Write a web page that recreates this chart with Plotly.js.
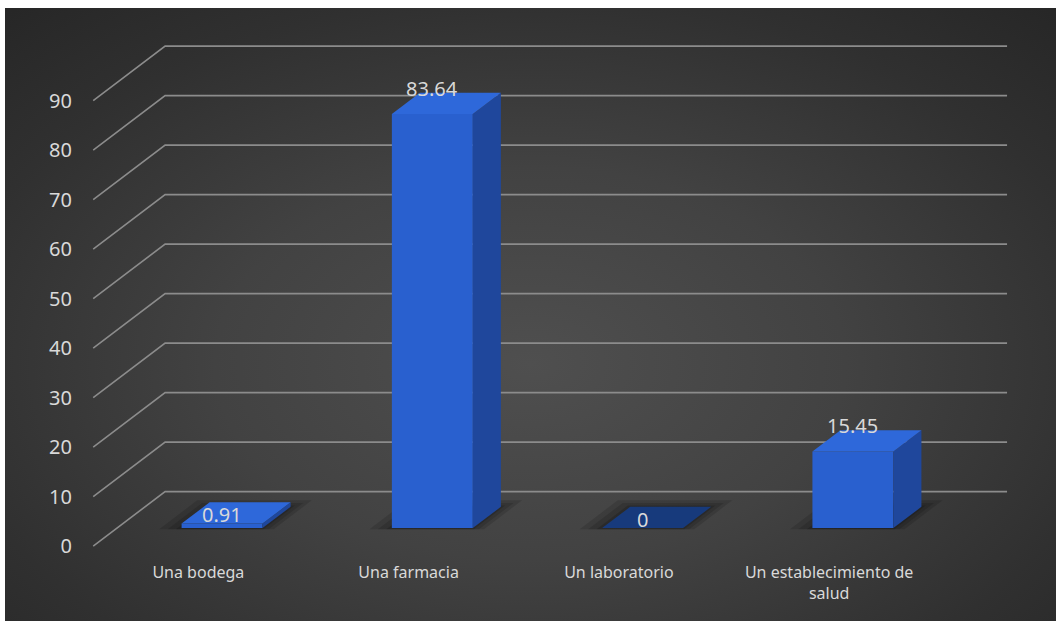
<!DOCTYPE html>
<html><head><meta charset="utf-8">
<script src="https://cdn.plot.ly/plotly-3.0.1.min.js"></script>
<style>
html,body{margin:0;padding:0;background:#fff;overflow:hidden;}
#bg{position:absolute;left:5px;top:8px;width:1051px;height:613px;
background:radial-gradient(ellipse 75% 80% at 50% 58%, #4f4f4f 0%, #424242 40%, #303030 75%, #262626 100%);}
#chart{position:absolute;left:0;top:0;width:1056px;height:621px;}
</style></head><body>
<div id="bg"></div><div id="chart"></div>
<script>
// ---- data ----
const categories = ["Una bodega", "Una farmacia", "Un laboratorio", "Un establecimiento de salud"];
const tickText = ["Una bodega", "Una farmacia", "Un laboratorio", "Un establecimiento de<br>salud"];
const values = [0.91, 83.64, 0, 15.45];
const valueLabels = ["0.91", "83.64", "0", "15.45"];
const yTicks = [0, 10, 20, 30, 40, 50, 60, 70, 80, 90];

// ---- 3D projection geometry (axis units) ----
const DX = 0.342, DY = 11.0;   // full floor depth offset
const D0 = 0.33, D1 = 0.72;    // bar front / back depth fraction
const BW = 0.385;              // bar width
const XR = [-0.52, 3.86];
const YR = [-1, 104.25];
const XEND = 3.846;

const txt = '#d9d9d9';
const font = 'Noto Sans, Open Sans, sans-serif';

const shapes = [];
// perspective gridlines (front diagonal + back wall line)
yTicks.forEach(v => {
  shapes.push({type:'path', layer:'below', xref:'x', yref:'y',
    path:`M ${-0.5},${v} L ${-0.5+DX},${v+DY} L ${XEND},${v+DY}`,
    line:{color:'#8c8c8c', width:1.6}});
});
// soft floor shadows
values.forEach((v, i) => {
  const xl = i - BW/2, xr = i + BW/2;
  [[0.10,0.13],[0.06,0.13],[0.02,0.16]].forEach(([g,a]) => {
    const da = D0 - 0.02, db = D1 + g*1.2;
    const p = [
      [xl - g + da*DX, da*DY], [xr + g*0.6 + da*DX, da*DY],
      [xr + g*0.6 + db*DX, db*DY], [xl - g + db*DX, db*DY]];
    shapes.push({type:'path', layer:'below', xref:'x', yref:'y',
      path:'M ' + p.map(q => q[0] + ',' + q[1]).join(' L ') + ' Z',
      fillcolor:`rgba(0,0,0,${a})`, line:{width:0}});
  });
});

const traces = [];
// front faces
traces.push({type:'bar', x: values.map((v,i) => i + D0*DX), y: values,
  base: values.map(() => D0*DY), width: BW,
  marker:{color:'#2960cf', line:{width:0}}, hoverinfo:'skip', showlegend:false});

values.forEach((v, i) => {
  const xl = i - BW/2 + D0*DX, xr = i + BW/2 + D0*DX;
  const ddx = (D1-D0)*DX, ddy = (D1-D0)*DY;
  const yb = D0*DY, yt = v + D0*DY;
  // side face
  if (v > 0) {
    traces.push({type:'scatter', mode:'lines', fill:'toself',
      x:[xr, xr, xr+ddx, xr+ddx, xr], y:[yb, yt, yt+ddy, yb+ddy, yb],
      line:{width:0, color:'rgba(0,0,0,0)'}, fillcolor:'#1f479c', hoverinfo:'skip', showlegend:false});
  }
  // top face
  traces.push({type:'scatter', mode:'lines', fill:'toself',
    x:[xl, xr, xr+ddx, xl+ddx, xl], y:[yt, yt, yt+ddy, yt+ddy, yt],
    line:{width:0, color:'rgba(0,0,0,0)'}, fillcolor: v > 0 ? '#2e68da' : '#173a7c',
    hoverinfo:'skip', showlegend:false});
});

const annotations = values.map((v, i) => ({
  xref:'x', yref:'y', x: i + D0*DX, y: v + (D0+D1)/2*DY,
  text: valueLabels[i], showarrow:false, xanchor:'center', yanchor:'middle',
  yshift: v > 5 ? 15 : -2, font:{family:font, size:20, color:txt}
}));

const layout = {
  width:1056, height:621,
  margin:{l:89, r:46, t:30, b:70},
  paper_bgcolor:'rgba(0,0,0,0)', plot_bgcolor:'rgba(0,0,0,0)',
  showlegend:false, shapes, annotations,
  xaxis:{range:XR, tickmode:'array', tickvals:[0,1,2,3], ticktext:tickText,
    showgrid:false, zeroline:false, showline:false, ticks:'', fixedrange:true,
    ticklabelstandoff:10, tickfont:{family:font, size:16, color:txt}},
  yaxis:{range:YR, tickmode:'array', tickvals:yTicks, ticktext:yTicks.map(String),
    showgrid:false, zeroline:false, showline:false, ticks:'', fixedrange:true,
    ticklabelstandoff:16, tickfont:{family:font, size:20, color:txt}},
  font:{family:font, color:txt}
};
Plotly.newPlot('chart', traces, layout, {displayModeBar:false, staticPlot:true});
</script></body></html>
